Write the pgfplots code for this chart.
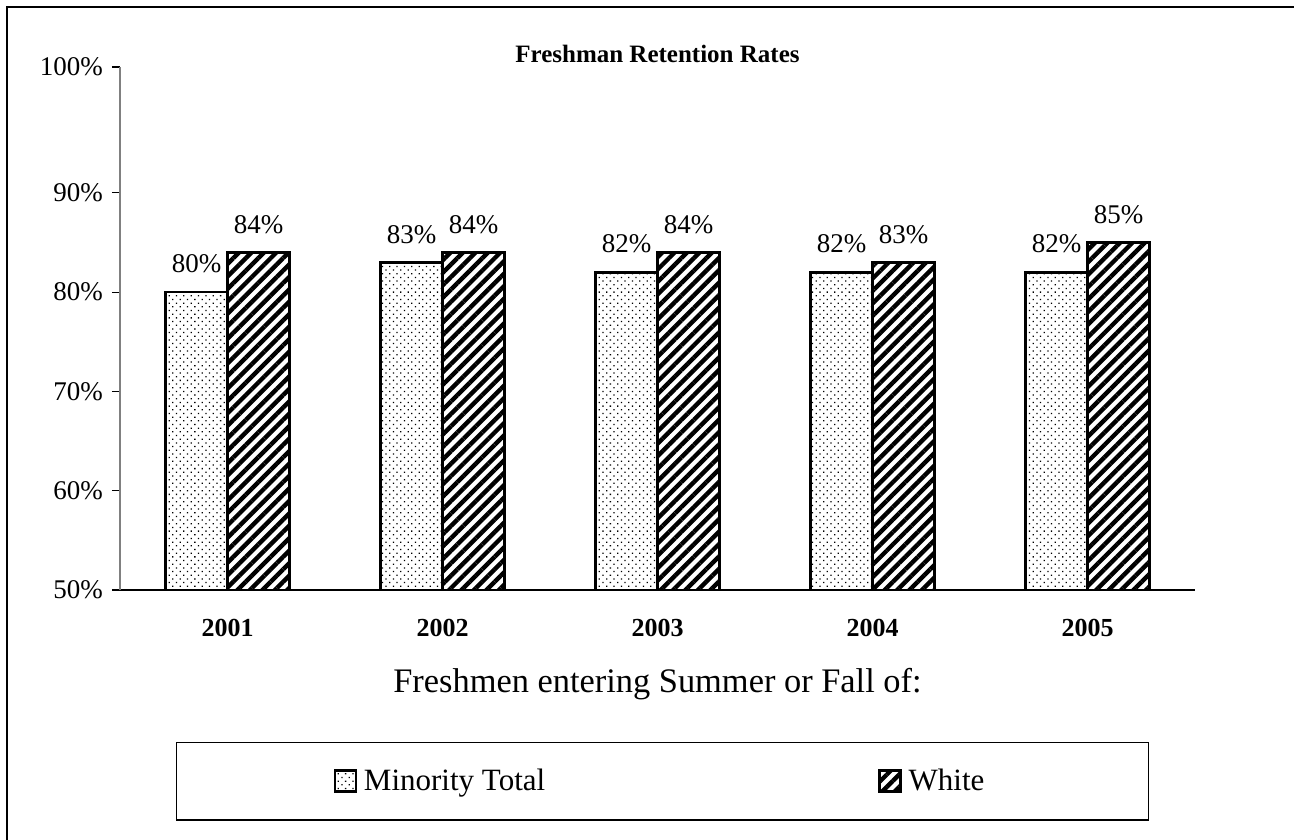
\documentclass[border=0pt]{standalone}
\usepackage{pgfplots}
\pgfplotsset{compat=1.18}
\usepackage{fontspec}
\setmainfont{Liberation Serif}
\usetikzlibrary{patterns.meta}

% retention rates, percent
\pgfplotstableread{
x year minority white
0 2001 80 84
1 2002 83 84
2 2003 82 84
3 2004 82 83
4 2005 82 85
}\retention

\begin{document}
\begin{tikzpicture}
% page = 1294x840 px at 0.5bp per px, axis corner at px (120,590)
\useasboundingbox (-60bp,-125bp) rectangle (587bp,295bp);
\draw[line width=1bp] (-56.5bp,-125bp) -- (-56.5bp,291.5bp) -- (587bp,291.5bp);
\begin{axis}[
    at={(0bp,0bp)}, anchor=south west,
    scale only axis,
    width=537.5bp, height=261.5bp,
    ybar=0pt, bar width=31bp,
    xmin=-0.5, xmax=4.5,
    % the original's top tick sits above the scale the bars use
    ymin=50, ymax=102.67,
    xtick={0,1,2,3,4},
    xticklabels={2001,2002,2003,2004,2005},
    minor xtick={-0.5,0.5,1.5,2.5,3.5,4.5},
    ytick={50,60,70,80,90,102.67},
    yticklabels={50\%,60\%,70\%,80\%,90\%,100\%},
    /pgf/number format/assume math mode=true,
    axis x line*=bottom, axis y line*=left,
    x axis line style={black, line width=0.6bp, -},
    y axis line style={gray, line width=0.6bp, -},
    tick align=outside,
    major tick length=4bp, minor tick length=4bp,
    tick style={black, line width=0.6bp},
    xtick style={draw=none},
    minor x tick style={black, line width=0.6bp},
    ticklabel style={font=\fontsize{13.5bp}{16bp}\selectfont},
    xticklabel style={font=\fontsize{13bp}{15bp}\selectfont\bfseries, yshift=-7bp},
    yticklabel style={xshift=-1bp},
    title={\textbf{Freshman Retention Rates}},
    title style={at={(axis description cs:0.5,1)}, anchor=center, yshift=0.5bp,
        font=\fontsize{12.5bp}{15bp}\selectfont},
    xlabel={Freshmen entering Summer or Fall of:},
    xlabel style={at={(axis description cs:0.5,0)}, anchor=center, yshift=-47bp,
        font=\fontsize{17.2bp}{20bp}\selectfont},
    nodes near coords={\pgfmathprintnumber{\pgfplotspointmeta}\%},
    nodes near coords style={font=\fontsize{13.5bp}{16bp}\selectfont, yshift=5.5bp},
    legend columns=2,
    legend image code/.code={\draw[#1,/tikz/.cd,line width=1.2bp] (0bp,-5bp) rectangle (10.5bp,5.5bp);},
    legend style={
        at={(0.0521,-0.2906)}, anchor=north west,
        draw=black, line width=0.6bp,
        inner xsep=78.5bp, inner ysep=11.25bp,
        font=\fontsize{15.5bp}{18bp}\selectfont,
        /tikz/every even column/.append style={column sep=163bp},
        nodes={inner xsep=3.5bp},
    },
]
\addplot[draw=black, line width=1.3bp, fill=white,
    postaction={pattern={Dots[angle=45,distance=2.6bp,radius=0.45bp]}}]
    table[x=x, y=minority] {\retention};
\addlegendentry{Minority Total}
\addplot[draw=black, line width=1.3bp, fill=white,
    postaction={pattern={Lines[angle=45,distance=4.4bp,line width=2.2bp]}}]
    table[x=x, y=white] {\retention};
\addlegendentry{White}
\end{axis}
\end{tikzpicture}
\end{document}
